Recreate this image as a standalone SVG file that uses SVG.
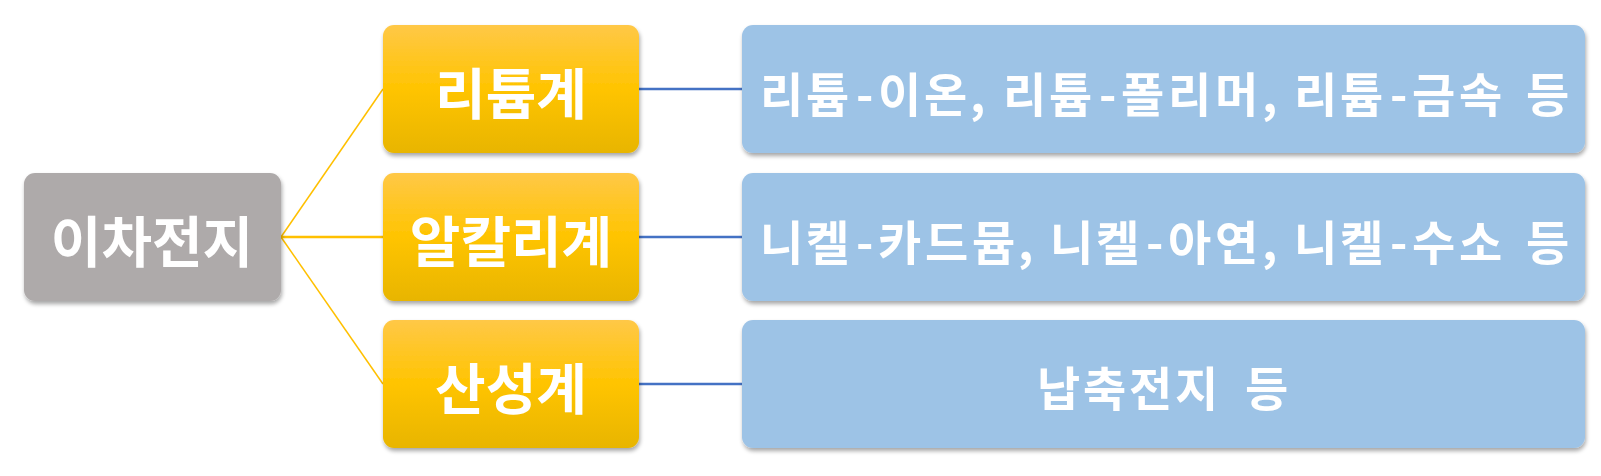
<svg xmlns="http://www.w3.org/2000/svg" width="1601" height="476" viewBox="0 0 1601 476">
<defs>
<linearGradient id="og" x1="0" y1="0" x2="0" y2="1">
<stop offset="0" stop-color="#FFC847"/>
<stop offset="0.5" stop-color="#FFC400"/>
<stop offset="1" stop-color="#E8B500"/>
</linearGradient>
<filter id="sh" x="-10%" y="-10%" width="120%" height="130%">
<feGaussianBlur in="SourceAlpha" stdDeviation="2"/>
<feOffset dx="1" dy="3" result="b"/>
<feComponentTransfer><feFuncA type="linear" slope="0.35"/></feComponentTransfer>
<feMerge><feMergeNode/><feMergeNode in="SourceGraphic"/></feMerge>
</filter>
</defs>
<style>
text{font-family:"Noto Sans CJK KR","Noto Sans",sans-serif;font-weight:bold;fill:#FFFFFF;dominant-baseline:central}
.big{font-size:55px;text-anchor:middle}
.mid{font-size:47px;text-anchor:start}
.gray{fill:#AEAAAA}
.org{fill:url(#og)}
.blu{fill:#9DC3E6}
.oline{stroke:#FFC000;stroke-width:1.5;fill:none}
.bline{stroke:#4472C4;stroke-width:2.5;fill:none}
</style>
<g id="connectors">
<line class="oline" x1="281" y1="237" x2="383" y2="89"/>
<line class="oline" x1="281" y1="237" x2="383" y2="237" style="stroke-width:2.5"/>
<line class="oline" x1="281" y1="237" x2="383" y2="384"/>
<line class="bline" x1="639" y1="89" x2="742" y2="89"/>
<line class="bline" x1="639" y1="237" x2="742" y2="237"/>
<line class="bline" x1="639" y1="384" x2="742" y2="384"/>
</g>
<g id="root" filter="url(#sh)">
<rect class="gray" x="24" y="173" width="257" height="128" rx="11"/>
<text class="big" x="152" y="238">이차전지</text>
</g>
<g id="lithium" filter="url(#sh)">
<rect class="org" x="383" y="25" width="256" height="128" rx="11"/>
<text class="big" x="511" y="90">리튬계</text>
</g>
<g id="alkali" filter="url(#sh)">
<rect class="org" x="383" y="173" width="256" height="128" rx="11"/>
<text class="big" x="511" y="238">알칼리계</text>
</g>
<g id="acid" filter="url(#sh)">
<rect class="org" x="383" y="320" width="256" height="128" rx="11"/>
<text class="big" x="511" y="385">산성계</text>
</g>
<g id="lithium-types" filter="url(#sh)">
<rect class="blu" x="742" y="25" width="843" height="128" rx="11"/>
<text class="mid" y="91" x="760 806 856 878 924 970 982 1003 1049 1099 1121 1168 1215 1262 1274 1294 1340 1390 1412 1459 1506 1526">리튬-이온, 리튬-폴리머, 리튬-금속 등</text>
</g>
<g id="alkali-types" filter="url(#sh)">
<rect class="blu" x="742" y="173" width="843" height="128" rx="11"/>
<text class="mid" y="239" x="760 806 856 878 925 972 1018 1030 1050 1096 1146 1168 1215 1262 1274 1294 1340 1390 1412 1459 1506 1526">니켈-카드뮴, 니켈-아연, 니켈-수소 등</text>
</g>
<g id="acid-types" filter="url(#sh)">
<rect class="blu" x="742" y="320" width="843" height="128" rx="11"/>
<text class="mid" y="385" x="1037 1083 1129 1175 1221 1245">납축전지 등</text>
</g>
</svg>
